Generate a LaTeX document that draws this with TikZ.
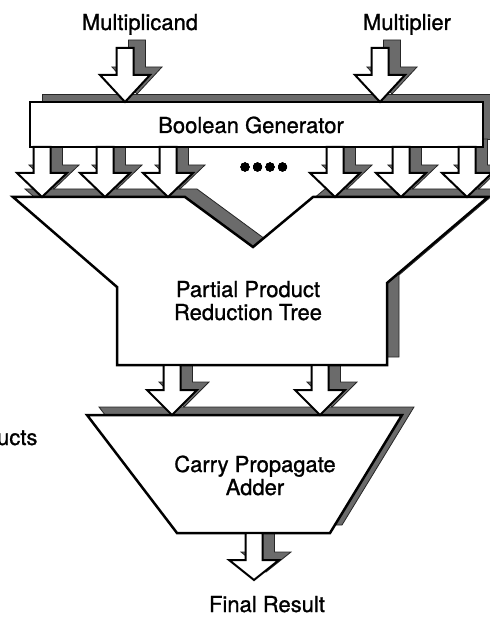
\documentclass[tikz,border=0pt]{standalone}
\usepackage{fontspec}
\setsansfont{TeX Gyre Heros}[FakeBold=1]
\usetikzlibrary{positioning}

\pgfdeclarelayer{shade}
\pgfsetlayers{shade,main}

\tikzset{
    blockline/.style={draw=black,line width=2.5pt,fill=white,line join=miter},
    arrowline/.style={draw=black,line width=2pt,fill=white,line join=miter},
    shadowfill/.style={fill=black!58,draw=black!85,line width=0.8pt,shift={(12,-8)}},
    blocktext/.style={anchor=base,align=center}
}

% fat block arrow: x, top of shaft, shoulder, tip
\newcommand{\fatarrow}[4]{%
    \begin{pgfonlayer}{shade}
        \filldraw[shadowfill] (#1-8.5,#2) -- (#1-8.5,#3) -- (#1-25,#3) -- (#1,#4)
            -- (#1+25,#3) -- (#1+8.5,#3) -- (#1+8.5,#2) -- cycle;
    \end{pgfonlayer}
    \filldraw[arrowline] (#1-8.5,#2) -- (#1-8.5,#3) -- (#1-25,#3) -- (#1,#4)
        -- (#1+25,#3) -- (#1+8.5,#3) -- (#1+8.5,#2) -- cycle;
}

\begin{document}
\begin{tikzpicture}[x=1pt,y=-1pt,font=\sffamily\fontsize{22}{23}\selectfont]
    \useasboundingbox (0,0) rectangle (489,617);

    % drop shadows of the blocks
    \begin{pgfonlayer}{shade}
        \filldraw[shadowfill] (30,102) rectangle (483,147);
        \filldraw[shadowfill] (13,197) -- (185,197) -- (253,247) -- (313,197) -- (488,197)
            -- (387,283) -- (387,365) -- (117,365) -- (117,287) -- cycle;
        \filldraw[shadowfill] (87,415) -- (402,415) -- (330,533) -- (177,533) -- cycle;
    \end{pgfonlayer}

    % blocks
    \filldraw[blockline] (30,102) rectangle (483,147);
    \filldraw[blockline] (13,197) -- (185,197) -- (253,247) -- (313,197) -- (488,197)
        -- (387,283) -- (387,365) -- (117,365) -- (117,287) -- cycle;
    \filldraw[blockline] (87,415) -- (402,415) -- (330,533) -- (177,533) -- cycle;

    % inputs
    \fatarrow{125}{48}{75}{102}
    \fatarrow{380}{48}{75}{102}

    % partial products into the tree
    \foreach \x in {42,105,168,335,401,467}
        \fatarrow{\x}{147}{173}{197}
    \foreach \x in {245,257.5,270,282.5}
        \fill (\x,167) circle (4.5pt);

    % sum and carry into the adder, result out
    \fatarrow{172}{365}{390}{415}
    \fatarrow{320}{365}{390}{415}
    \fatarrow{254}{533}{560}{580}

    % labels
    \node (mcand) [blocktext] at (140,30) {Multiplicand};
    \node (mplier) [blocktext] at (407,30) {Multiplier};
    \node (boolgen) [blocktext] at (251,133) {Boolean Generator};
    \node (pprt) [blocktext] at (248,320) {Partial Product\\Reduction Tree};
    \node (cpa) [blocktext] at (255,495) {Carry Propagate\\Adder};
    \node (pprod) [anchor=base east] at (41,445) {ucts};
    \node (result) [blocktext] at (267,612) {Final Result};
\end{tikzpicture}
\end{document}
